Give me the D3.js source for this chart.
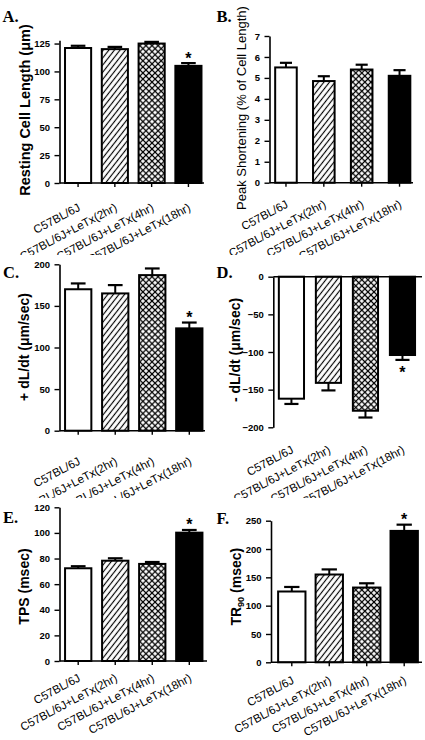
<!DOCTYPE html>
<html><head><meta charset="utf-8">
<script src="https://cdn.jsdelivr.net/npm/d3@7"></script>
<style>body{margin:0;background:#fff}svg{display:block}</style>
</head><body><svg id="chart" width="425" height="740"></svg>
<script>
// ---------- DATA ----------
const categories = ["C57BL/6J", "C57BL/6J+LeTx(2hr)", "C57BL/6J+LeTx(4hr)", "C57BL/6J+LeTx(18hr)"];
const restingLength = [121, 120, 125, 105];
const restingLengthErr = [2, 2, 1.5, 2.5];
const peakShortening = [5.5, 4.85, 5.4, 5.1];
const peakShorteningErr = [0.22, 0.23, 0.23, 0.27];
const plusDLdt = [170, 165, 187, 123];
const plusDLdtErr = [7, 10, 8, 7];
const minusDLdt = [-162, -141, -178, -104];
const minusDLdtErr = [7, 10, 9, 6.5];
const tps = [72.4, 78.3, 75.8, 100.2];
const tpsErr = [1.6, 1.9, 1.5, 2.1];
const tr90 = [125, 155, 132, 232];
const tr90Err = [8, 9, 7.5, 11];
const sigA = [false, false, false, true];
const sigB = [false, false, false, false];
const sigC = [false, false, false, true];
const sigD = [false, false, false, true];
const sigE = [false, false, false, true];
const sigF = [false, false, false, true];
const ticksA = [0, 25, 50, 75, 100, 125];
const ticksB = [0, 1, 2, 3, 4, 5, 6, 7];
const ticksC = [0, 50, 100, 150, 200];
const ticksD = [-200, -150, -100, -50, 0];
const ticksE = [0, 20, 40, 60, 80, 100, 120];
const ticksF = [0, 50, 100, 150, 200, 250];

// ---------- STYLE ----------
const fills = ["#ffffff", "url(#hatch)", "url(#cross)", "#000000"];
const SANS = "'Liberation Sans', Arial, sans-serif";
const SERIF = "'Liberation Serif', 'Times New Roman', serif";

const svg = d3.select("#chart");
const defs = svg.append("defs");
defs.append("pattern").attr("id", "hatch").attr("patternUnits", "userSpaceOnUse")
  .attr("width", 4.4).attr("height", 4.4).attr("patternTransform", "rotate(38)")
  .call(p => { p.append("rect").attr("width", 4.4).attr("height", 4.4).attr("fill", "#fff");
               p.append("line").attr("x1", 2.2).attr("y1", 0).attr("x2", 2.2).attr("y2", 4.4)
                .attr("stroke", "#000").attr("stroke-width", 1.15); });
defs.append("pattern").attr("id", "cross").attr("patternUnits", "userSpaceOnUse")
  .attr("width", 4.3).attr("height", 4.3).attr("patternTransform", "rotate(45)")
  .call(p => { p.append("rect").attr("width", 4.3).attr("height", 4.3).attr("fill", "#fff");
               p.append("path").attr("d", "M0,2.15H4.3M2.15,0V4.3")
                .attr("stroke", "#000").attr("stroke-width", 1.25); });

const rows = [[0, 255], [255, 498], [498, 740]];
rows.forEach((r, i) => {
  defs.append("clipPath").attr("id", "row" + i).append("rect")
    .attr("x", -10).attr("y", r[0]).attr("width", 445).attr("height", r[1] - r[0]);
});

const panels = [
  { row: 0, letter: "A.", lx: 2.5, ly: 21.7, values: restingLength, errs: restingLengthErr, sig: sigA,
    ticks: ticksA, domain: [0, 128], yRange: [183, 40.2], xRange: [59.5, 207], pi: 0.29, po: 0.15,
    axisEnd: 204, title: "Resting Cell Length (μm)", bold: true, tsize: 14.5, tx: 29.5, ty: 110, labelDy: 27 },
  { row: 0, letter: "B.", lx: 216.5, ly: 21.7, values: peakShortening, errs: peakShorteningErr, sig: sigB,
    ticks: ticksB, domain: [0, 7], yRange: [182.7, 36], xRange: [269.5, 416], pi: 0.43, po: 0.15,
    axisEnd: 413, title: "Peak Shortening (% of Cell Length)", bold: false, tsize: 13, tx: 246, ty: 108, labelDy: 24 },
  { row: 1, letter: "C.", lx: 3, ly: 278.3, values: plusDLdt, errs: plusDLdtErr, sig: sigC,
    ticks: ticksC, domain: [0, 200], yRange: [430.7, 264.3], xRange: [59.5, 208], pi: 0.29, po: 0.15,
    axisEnd: 205, title: "+ dL/dt (μm/sec)", bold: true, tsize: 14, tx: 28.5, ty: 347, labelDy: 33 },
  { row: 1, letter: "D.", lx: 216.5, ly: 278.3, values: minusDLdt, errs: minusDLdtErr, sig: sigD,
    ticks: ticksD, domain: [-200, 0], yRange: [427.3, 276.7], xRange: [273.3, 420.6], pi: 0.32, po: 0.15,
    axisEnd: 422, title: "- dL/dt (μm/sec)", bold: true, tsize: 14, tx: 240, ty: 350, labelDy: 25 },
  { row: 2, letter: "E.", lx: 3, ly: 523, values: tps, errs: tpsErr, sig: sigE,
    ticks: ticksE, domain: [0, 120], yRange: [661, 507.3], xRange: [59.5, 208], pi: 0.29, po: 0.15,
    axisEnd: 207, title: "TPS (msec)", bold: true, tsize: 14, tx: 28.5, ty: 586.5, labelDy: 19.5 },
  { row: 2, letter: "F.", lx: 216.5, ly: 524.3, values: tr90, errs: tr90Err, sig: sigF,
    ticks: ticksF, domain: [0, 250], yRange: [662.3, 520.7], xRange: [271, 425], pi: 0.27, po: 0.19,
    axisEnd: 422, title: "TR90", bold: true, tsize: 14, tx: 241, ty: 586.7, labelDy: 20.5 }
];

panels.forEach(P => {
  const g = svg.append("g").attr("clip-path", `url(#row${P.row})`);
  const x = d3.scaleBand().domain(categories).range(P.xRange).paddingInner(P.pi).paddingOuter(P.po);
  const y = d3.scaleLinear().domain(P.domain).range(P.yRange);
  const y0 = y(0);
  const neg = P.domain[1] <= 0;
  const axisLeft = P.xRange[0];

  // bars
  g.selectAll("rect.bar").data(P.values).join("rect").attr("class", "bar")
    .attr("x", (d, i) => x(categories[i]))
    .attr("width", x.bandwidth())
    .attr("y", d => Math.min(y(d), y0))
    .attr("height", d => Math.abs(y(d) - y0))
    .attr("fill", (d, i) => fills[i])
    .attr("stroke", "#000").attr("stroke-width", 2);

  // error bars
  const capHalf = x.bandwidth() * 0.28;
  P.values.forEach((v, i) => {
    const cx = x(categories[i]) + x.bandwidth() / 2;
    const end = neg ? v - P.errs[i] : v + P.errs[i];
    g.append("line").attr("x1", cx).attr("x2", cx).attr("y1", y(v)).attr("y2", y(end))
      .attr("stroke", "#000").attr("stroke-width", 2);
    g.append("line").attr("x1", cx - capHalf).attr("x2", cx + capHalf).attr("y1", y(end)).attr("y2", y(end))
      .attr("stroke", "#000").attr("stroke-width", 2.2);
    if (P.sig[i]) {
      g.append("text").attr("x", cx).attr("y", neg ? y(end) + 18.5 : y(end) + 0.5)
        .attr("text-anchor", "middle").attr("font-family", SANS).attr("font-weight", "bold")
        .attr("font-size", 16).text("*");
    }
  });

  // y axis
  const yAxis = d3.axisLeft(y).tickValues(P.ticks).tickFormat(d3.format("d"))
    .tickSize(5).tickPadding(4.5).tickSizeOuter(0);
  const ya = g.append("g").attr("transform", `translate(${axisLeft},0)`).call(yAxis);
  ya.select(".domain").attr("stroke-width", 1.6);
  ya.selectAll(".tick line").attr("stroke-width", 1.4);
  ya.selectAll(".tick text").attr("font-family", SANS).attr("font-weight", "bold").attr("font-size", 9.5).attr("fill", "#000");

  // x axis
  if (!neg) {
    const xAxis = d3.axisBottom(x).tickSize(4).tickSizeOuter(0).tickFormat("");
    const xa = g.append("g").attr("transform", `translate(0,${y0})`).call(xAxis);
    xa.select(".domain").attr("d", `M${axisLeft},0H${P.axisEnd}`).attr("stroke-width", 1.6);
    xa.selectAll(".tick line").attr("stroke-width", 1.4);
  } else {
    g.append("line").attr("x1", axisLeft).attr("x2", P.axisEnd).attr("y1", y0).attr("y2", y0)
      .attr("stroke", "#000").attr("stroke-width", 1.6);
  }
  const labelBase = neg ? y(P.domain[0]) : y0;
  g.selectAll("text.xl").data(categories).join("text").attr("class", "xl")
    .attr("transform", d => `translate(${x(d) + x.bandwidth() / 2 + 3},${labelBase + P.labelDy}) rotate(-28)`)
    .attr("text-anchor", "end").attr("font-family", SANS).attr("font-size", 11.6).attr("fill", "#000")
    .text(d => d);

  // title
  const t = g.append("text").attr("transform", `translate(${P.tx},${P.ty}) rotate(-90)`)
    .attr("text-anchor", "middle").attr("font-family", SANS)
    .attr("font-weight", P.bold ? "bold" : "normal").attr("font-size", P.tsize).attr("fill", "#000");
  if (P.title === "TR90") {
    t.append("tspan").text("TR");
    t.append("tspan").attr("font-size", P.tsize * 0.65).attr("dy", 3).text("90");
    t.append("tspan").attr("dy", -3).text(" (msec)");
  } else {
    t.text(P.title);
  }

  // panel letter
  g.append("text").attr("x", P.lx).attr("y", P.ly).attr("font-family", SERIF)
    .attr("font-weight", "bold").attr("font-size", 16.5).attr("fill", "#000").text(P.letter);
});
</script></body></html>
